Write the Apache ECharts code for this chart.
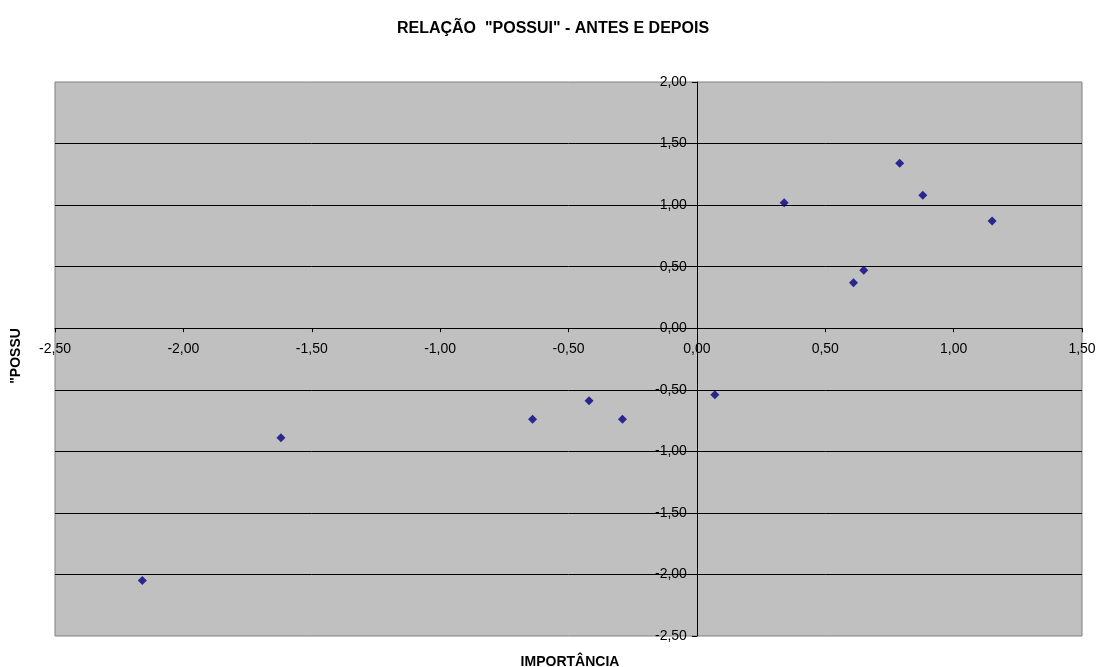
<!DOCTYPE html>
<html>
<head>
<meta charset="utf-8">
<script src="https://cdn.jsdelivr.net/npm/echarts@6/dist/echarts.min.js"></script>
<style>
  html, body { margin: 0; padding: 0; background: #fff; }
  #chart { width: 1102px; height: 667px; }
</style>
</head>
<body>
<div id="chart"></div>
<script>
// Importance (x) against "possui" shift (y) for each item
const importancia = [-2.16, -1.62, -0.64, -0.42, -0.29, 0.07, 0.34, 0.61, 0.65, 0.79, 0.88, 1.15];
const possui      = [-2.05, -0.89, -0.74, -0.59, -0.74, -0.54, 1.02, 0.37, 0.47, 1.34, 1.08, 0.87];

const chartTitle = 'RELAÇÃO  "POSSUI" - ANTES E DEPOIS';
const xName = 'IMPORTÂNCIA';
const yName = '"POSSU';

const points = importancia.map((x, i) => [x, possui[i]]);
const fmt = v => v.toFixed(2).replace('.', ',');
const font = 'Liberation Sans, Arial, sans-serif';

const gridBox = { left: 55, right: 20, top: 82, bottom: 31 };
const W = 1102, H = 667;

const chart = echarts.init(document.getElementById('chart'), null, { renderer: 'canvas' });
chart.setOption({
  animation: false,
  backgroundColor: '#ffffff',
  grid: Object.assign({
    show: true, backgroundColor: '#c0c0c0', borderColor: '#808080', borderWidth: 1
  }, gridBox),
  xAxis: {
    type: 'value', min: -2.5, max: 1.5, interval: 0.5, position: 'bottom',
    axisLine: { onZero: false, lineStyle: { color: '#000', width: 1 } },
    axisTick: { show: true, length: 4, lineStyle: { color: '#000' } },
    axisLabel: { formatter: fmt, margin: 14, fontFamily: font, fontSize: 14, color: '#000' },
    splitLine: { show: false }
  },
  yAxis: {
    type: 'value', min: -2.5, max: 2.0, interval: 0.5, position: 'left',
    axisLine: { onZero: false, lineStyle: { color: '#000', width: 1 } },
    axisTick: { show: true, length: 5, lineStyle: { color: '#000' } },
    axisLabel: { formatter: fmt, margin: 10, fontFamily: font, fontSize: 14, color: '#000' },
    splitLine: { show: true, showMinLine: false, showMaxLine: false, lineStyle: { color: '#000', width: 1 } }
  },
  graphic: [
    {
      type: 'text', x: 553, y: 29,
      style: { text: chartTitle, fontFamily: font, fontSize: 16, fontWeight: 'bold', fill: '#000',
               textAlign: 'center', textVerticalAlign: 'middle' }
    },
    {
      type: 'text', x: 570, y: 662,
      style: { text: xName, fontFamily: font, fontSize: 14, fontWeight: 'bold', fill: '#000',
               textAlign: 'center', textVerticalAlign: 'middle' }
    },
    {
      type: 'text', x: 16, y: 356, rotation: Math.PI / 2,
      style: { text: yName, fontFamily: font, fontSize: 14, fontWeight: 'bold', fill: '#000',
               textAlign: 'center', textVerticalAlign: 'middle' }
    }
  ],
  series: [{
    type: 'scatter',
    data: points,
    symbol: 'diamond',
    symbolSize: 9,
    itemStyle: { color: '#000080' }
  }]
});

// Move both axes (line, ticks and labels) so they cross at the origin
const origin = chart.convertToPixel({ gridIndex: 0 }, [0, 0]);
const gridBottomPx = H - gridBox.bottom;
chart.setOption({
  xAxis: { offset: origin[1] - gridBottomPx },
  yAxis: { offset: gridBox.left - origin[0] }
});
</script>
</body>
</html>
